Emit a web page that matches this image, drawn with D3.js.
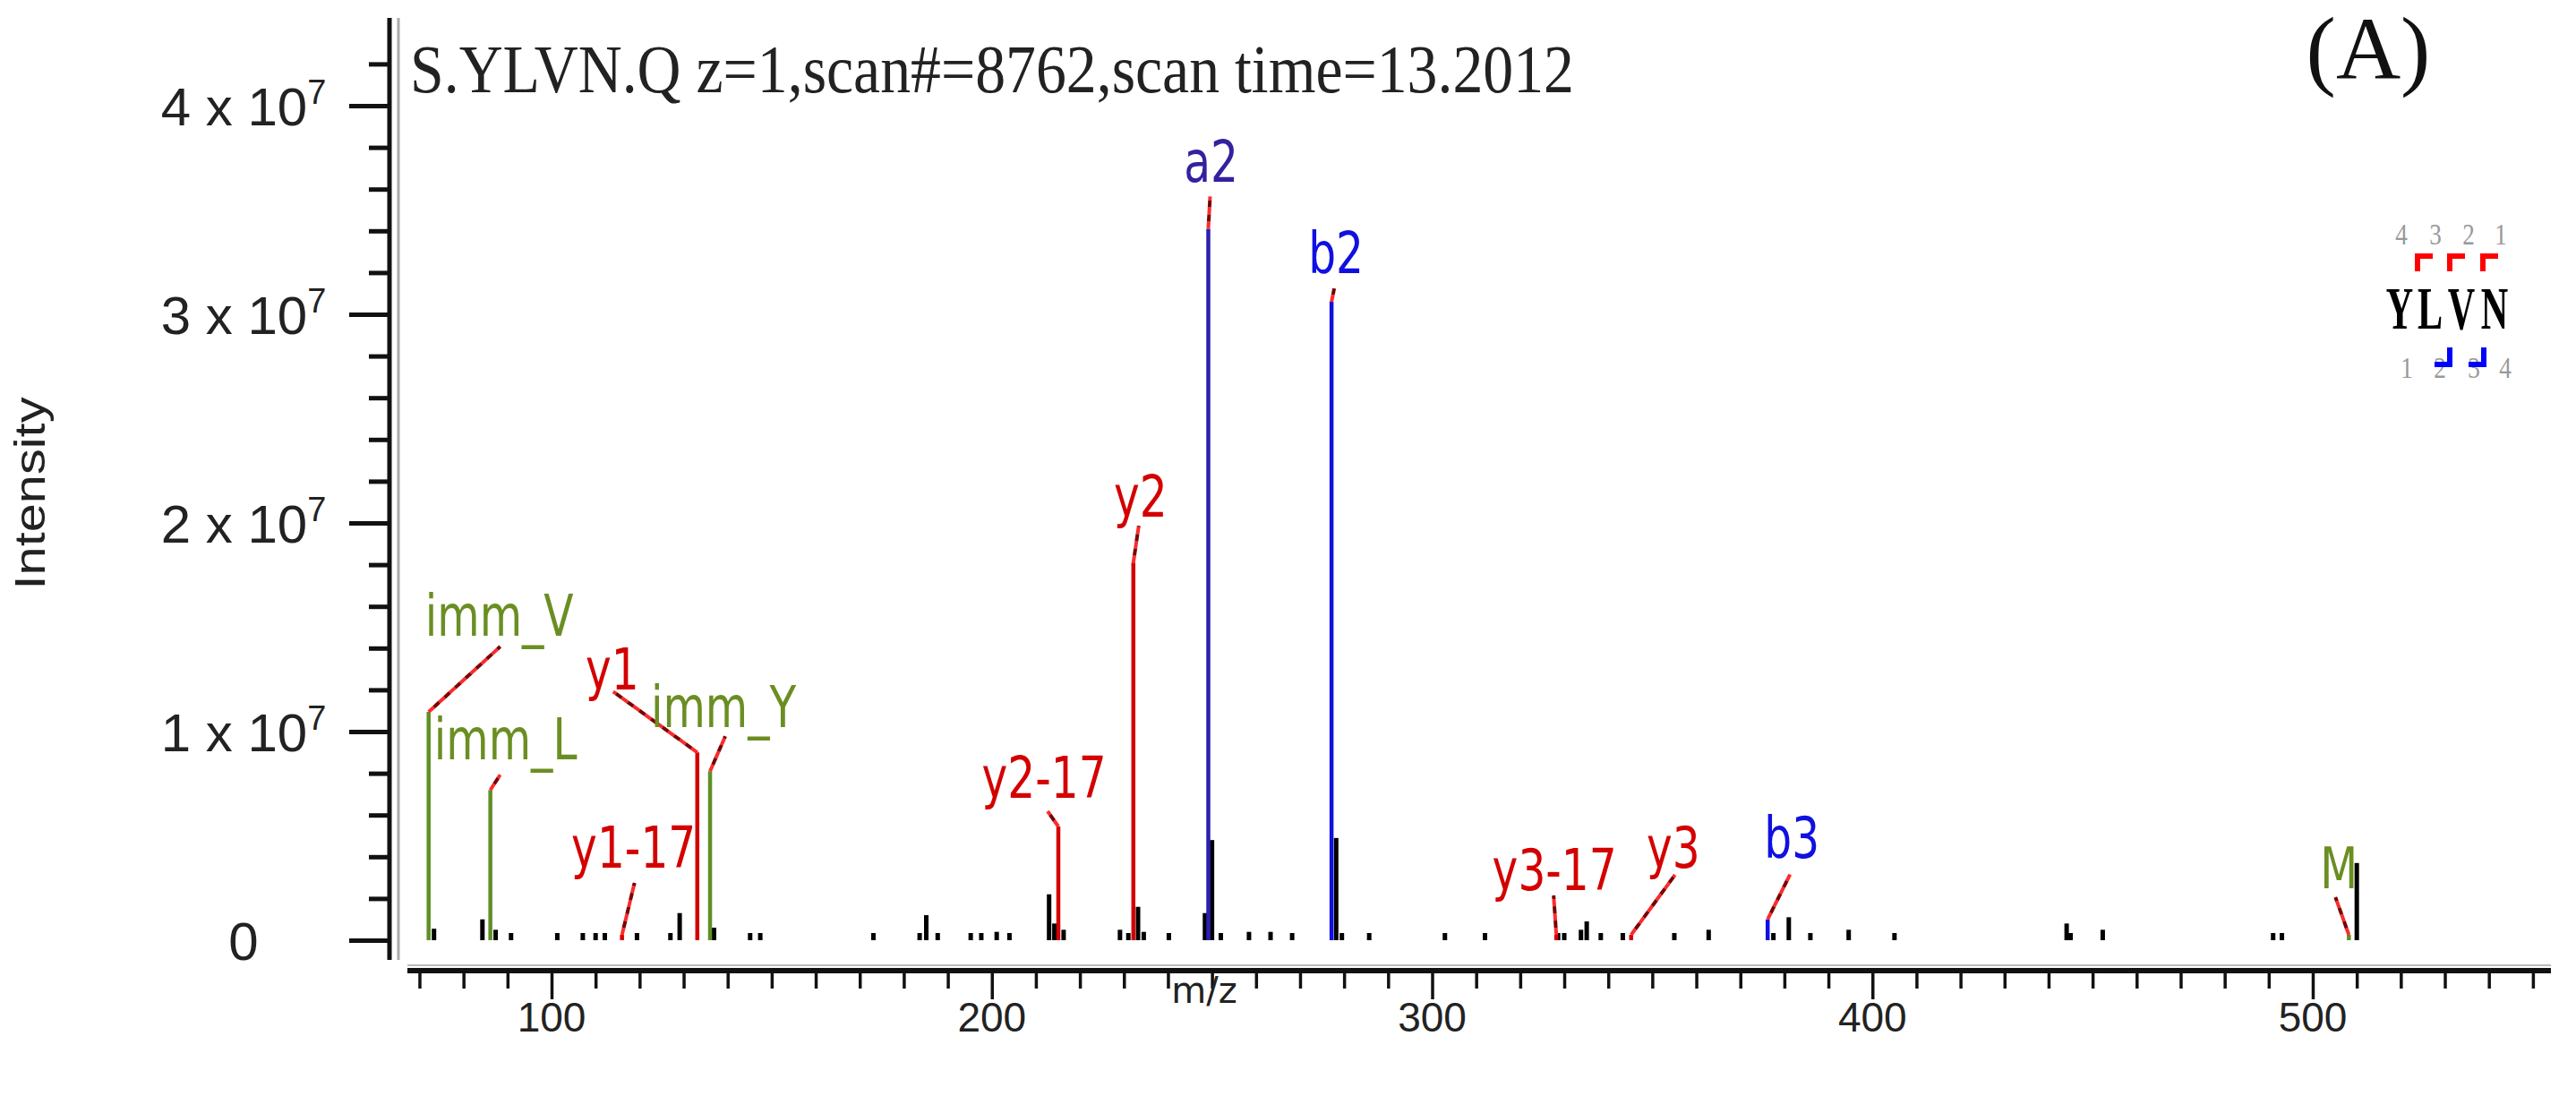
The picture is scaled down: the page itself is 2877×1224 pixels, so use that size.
<!DOCTYPE html>
<html>
<head>
<meta charset="utf-8">
<script src="https://cdn.jsdelivr.net/npm/d3@7"></script>
<style>
  html, body { margin: 0; padding: 0; background: #fff; }
</style>
</head>
<body>
<svg id="chart" width="2877" height="1224"></svg>
<script>
// m/z and intensity (x 1e7) of the unannotated peaks
const noiseMz = [73.3, 84.3, 87.3, 90.8, 101.3, 107.1, 110, 112.1, 119.4, 127, 129.1, 136.9,
  145.1, 147.4, 173.1, 183.6, 185.1, 187.7, 195.2, 197.6, 201.1, 204, 213, 214.2, 216.3,
  229.1, 231, 233.2, 234.5, 240.2, 248.4, 250, 252, 258.4, 263.3, 268.2, 278.2, 279.5,
  285.7, 302.9, 312, 328.6, 330, 333.8, 335.1, 338.3, 343.3, 355, 362.8, 377.5, 381,
  385.9, 394.6, 405, 444.1, 445, 452.3, 491, 493, 510]
const noiseInt = [0.055, 0.10, 0.05, 0.03, 0.02, 0.02, 0.02, 0.02, 0.03, 0.03, 0.13, 0.06,
  0.03, 0.03, 0.01, 0.03, 0.12, 0.03, 0.03, 0.03, 0.04, 0.03, 0.22, 0.08, 0.05,
  0.05, 0.03, 0.16, 0.04, 0.01, 0.13, 0.48, 0.02, 0.04, 0.04, 0.03, 0.49, 0.03,
  0.01, 0.01, 0.01, 0.03, 0.03, 0.05, 0.09, 0.02, 0.03, 0.01, 0.05, 0.03, 0.11,
  0.03, 0.05, 0.01, 0.08, 0.03, 0.05, 0.02, 0.02, 0.37]

// annotated fragment ions
const ionNames = ['imm_V', 'imm_L', 'y1-17', 'y1', 'imm_Y', 'y2-17', 'y2', 'a2', 'b2', 'y3-17', 'y3', 'b3', 'M']
const ionMz = [72.08, 86.1, 116, 133.1, 136.0, 215.1, 232.14, 249.16, 277.15, 328.2, 345.2, 376.2, 508.2]
const ionInt = [1.094, 0.72, 0.01, 0.90, 0.81, 0.545, 1.81, 3.41, 3.06, 0.01, 0.01, 0.10, 0.02]
const ionType = ['imm', 'imm', 'y', 'y', 'imm', 'y', 'y', 'a', 'b', 'y', 'y', 'b', 'imm']

const yTicks = [0, 1, 2, 3, 4]
const xTicks = [100, 200, 300, 400, 500]

// label placement relative to the peak tip: [text dx, text dy, leader dx, leader dy]
const labelOffset = {
  'imm_V': [79, -85, 80, -73], 'imm_L': [17, -34, 11, -17], 'y1-17': [13, -75, 14, -58],
  'y1': [-95, -70, -94, -68], 'imm_Y': [15, -49, 17, -39], 'y2-17': [-16, -32, -12, -17],
  'y2': [8, -51, 6, -41], 'a2': [3, -52, 2, -36], 'b2': [5, -32, 3, -15],
  'y3-17': [-2, -50, -3, -44], 'y3': [47, -75, 49, -67], 'b3': [27, -69, 25, -50],
  'M': [-11, -52, -15, -42]
}
const lineColor = { imm: '#5f9026', y: '#d40000', a: '#2a1fb0', b: '#1010e0' }
const textColor = { imm: '#6b8e23', y: '#d40000', a: '#33229f', b: '#1010e0' }

const svg = d3.select('#chart')

const x = d3.scaleLinear().domain([100, 500]).range([616, 2583])
const y = d3.scaleLinear().domain([0, 4]).range([1050, 118])
const axisY = 1084

// y axis: double line and ticks
svg.append('line').attr('x1', 435).attr('x2', 435).attr('y1', 20).attr('y2', axisY - 12)
  .attr('stroke', '#111').attr('stroke-width', 5)
svg.append('line').attr('x1', 445).attr('x2', 445).attr('y1', 20).attr('y2', axisY - 12)
  .attr('stroke', '#aaa').attr('stroke-width', 3)

const yMinor = d3.range(0, 4.21, 0.2)
svg.append('g').attr('transform', 'translate(435,0)')
  .call(d3.axisLeft(y).tickValues(yMinor).tickSize(23).tickFormat(''))
  .call(g => g.select('.domain').remove())
  .call(g => g.selectAll('line').attr('stroke', '#111').attr('stroke-width', 5))
svg.append('g').attr('transform', 'translate(435,0)')
  .call(d3.axisLeft(y).tickValues(yTicks).tickSize(45).tickFormat(''))
  .call(g => g.select('.domain').remove())
  .call(g => g.selectAll('line').attr('stroke', '#111').attr('stroke-width', 5))

const yLab = svg.append('g').attr('font-family', 'Liberation Sans, Arial, sans-serif')
  .attr('fill', '#222').attr('text-anchor', 'middle')
yTicks.forEach(v => {
  const t = yLab.append('text').attr('x', 272).attr('y', y(v) + 22).attr('font-size', 60)
  if (v === 0) { t.text('0'); return }
  t.append('tspan').text(v + ' x 10')
  t.append('tspan').attr('dy', -24).attr('font-size', 38).text('7')
})
svg.append('text').attr('transform', 'translate(50,551) rotate(-90)')
  .attr('text-anchor', 'middle').attr('font-family', 'Liberation Sans Narrow, Liberation Sans, sans-serif')
  .attr('font-size', 48).attr('fill', '#222').attr('textLength', 215).attr('lengthAdjust', 'spacingAndGlyphs')
  .text('Intensity')

// x axis
svg.append('line').attr('x1', 455).attr('x2', 2849).attr('y1', axisY).attr('y2', axisY)
  .attr('stroke', '#111').attr('stroke-width', 6)
svg.append('line').attr('x1', 455).attr('x2', 2849).attr('y1', axisY - 6).attr('y2', axisY - 6)
  .attr('stroke', '#bbb').attr('stroke-width', 2)
const xMinor = d3.range(70, 551, 10).filter(v => v % 100 !== 0)
svg.append('g').attr('transform', `translate(0,${axisY})`)
  .call(d3.axisBottom(x).tickValues(xMinor).tickSize(20).tickFormat(''))
  .call(g => g.select('.domain').remove())
  .call(g => g.selectAll('line').attr('stroke', '#111').attr('stroke-width', 3.5))
svg.append('g').attr('transform', `translate(0,${axisY})`)
  .call(d3.axisBottom(x).tickValues(xTicks).tickSize(32).tickFormat(''))
  .call(g => g.select('.domain').remove())
  .call(g => g.selectAll('line').attr('stroke', '#111').attr('stroke-width', 3.5))
svg.append('g').attr('font-family', 'Liberation Sans, Arial, sans-serif').attr('font-size', 46)
  .attr('fill', '#222').attr('text-anchor', 'middle')
  .selectAll('text').data(xTicks).join('text')
  .attr('x', d => x(d)).attr('y', 1152).text(d => d)
svg.append('text').attr('x', 1345).attr('y', 1120).attr('text-anchor', 'middle')
  .attr('font-family', 'DejaVu Sans, sans-serif').attr('font-size', 40).attr('fill', '#222')
  .text('m/z')

// noise peaks
svg.append('g').selectAll('line').data(noiseMz).join('line')
  .attr('x1', d => x(d)).attr('x2', d => x(d))
  .attr('y1', y(0)).attr('y2', (d, i) => Math.min(y(noiseInt[i]), y(0) - 8))
  .attr('stroke', '#000').attr('stroke-width', 5)

// annotated peaks
const ions = ionNames.map((n, i) => ({ name: n, mz: ionMz[i], v: ionInt[i], type: ionType[i] }))
const tipY = d => Math.min(y(d.v), y(0) - 6)
svg.append('g').selectAll('line').data(ions).join('line')
  .attr('x1', d => x(d.mz)).attr('x2', d => x(d.mz))
  .attr('y1', y(0)).attr('y2', tipY)
  .attr('stroke', d => lineColor[d.type]).attr('stroke-width', 4.5)

// leader lines: alternating bright and dark red dashes
const leaders = svg.append('g')
ions.forEach(d => {
  const o = labelOffset[d.name]
  const tx = x(d.mz), ty = tipY(d)
  leaders.append('line').attr('x1', tx).attr('y1', ty).attr('x2', tx + o[2]).attr('y2', ty + o[3])
    .attr('stroke', '#ff2a2a').attr('stroke-width', 4).attr('stroke-dasharray', '8 8')
  leaders.append('line').attr('x1', tx).attr('y1', ty).attr('x2', tx + o[2]).attr('y2', ty + o[3])
    .attr('stroke', '#7a0000').attr('stroke-width', 4).attr('stroke-dasharray', '8 8')
    .attr('stroke-dashoffset', 8)
})

svg.append('g').attr('font-family', 'DejaVu Sans, sans-serif')
  .attr('font-size', 64).attr('text-anchor', 'middle')
  .selectAll('text').data(ions).join('text')
  .attr('transform', d => `translate(${x(d.mz) + labelOffset[d.name][0]},${tipY(d) + labelOffset[d.name][1]}) scale(0.76,1)`)
  .attr('fill', d => textColor[d.type])
  .text(d => d.name)

// header
svg.append('text').attr('x', 458).attr('y', 103)
  .attr('font-family', 'Liberation Serif, serif').attr('font-size', 76).attr('fill', '#222')
  .attr('textLength', 1300).attr('lengthAdjust', 'spacingAndGlyphs')
  .text('S.YLVN.Q z=1,scan#=8762,scan time=13.2012')
svg.append('text').attr('x', 2645).attr('y', 88).attr('text-anchor', 'middle')
  .attr('font-family', 'Liberation Serif, serif').attr('font-size', 100).attr('fill', '#111')
  .text('(A)')

// sequence coverage glyph
const residues = ['Y', 'L', 'V', 'N']
const resX = [2680, 2714, 2749, 2786]
const topNum = [4, 3, 2, 1], topNumX = [2682, 2720, 2757, 2793]
const botNum = [1, 2, 3, 4], botNumX = [2688, 2725, 2763, 2798]
const yBracketX = [2697, 2733, 2770]
const bBracketX = [2739, 2777]
const seq = svg.append('g')
seq.selectAll('.res').data(residues).join('text').attr('class', 'res')
  .attr('transform', (d, i) => `translate(${resX[i]},367) scale(0.62,1)`).attr('text-anchor', 'middle')
  .attr('font-family', 'Liberation Serif, serif').attr('font-weight', 'bold')
  .attr('font-size', 68).attr('fill', '#000').text(d => d)
seq.selectAll('.tn').data(topNum).join('text').attr('class', 'tn')
  .attr('transform', (d, i) => `translate(${topNumX[i]},273) scale(0.8,1)`).attr('text-anchor', 'middle')
  .attr('font-family', 'Liberation Serif, serif').attr('font-size', 34).attr('fill', '#999').text(d => d)
seq.selectAll('.bn').data(botNum).join('text').attr('class', 'bn')
  .attr('transform', (d, i) => `translate(${botNumX[i]},422) scale(0.8,1)`).attr('text-anchor', 'middle')
  .attr('font-family', 'Liberation Serif, serif').attr('font-size', 34).attr('fill', '#999').text(d => d)
seq.selectAll('.yb').data(yBracketX).join('path').attr('class', 'yb')
  .attr('d', d => `M${d + 3},303 V286 H${d + 20}`)
  .attr('fill', 'none').attr('stroke', '#ff0000').attr('stroke-width', 6)
seq.selectAll('.bb').data(bBracketX).join('path').attr('class', 'bb')
  .attr('d', d => `M${d - 3},388 V407 H${d - 20}`)
  .attr('fill', 'none').attr('stroke', '#0000ff').attr('stroke-width', 6)
</script>
</body>
</html>
